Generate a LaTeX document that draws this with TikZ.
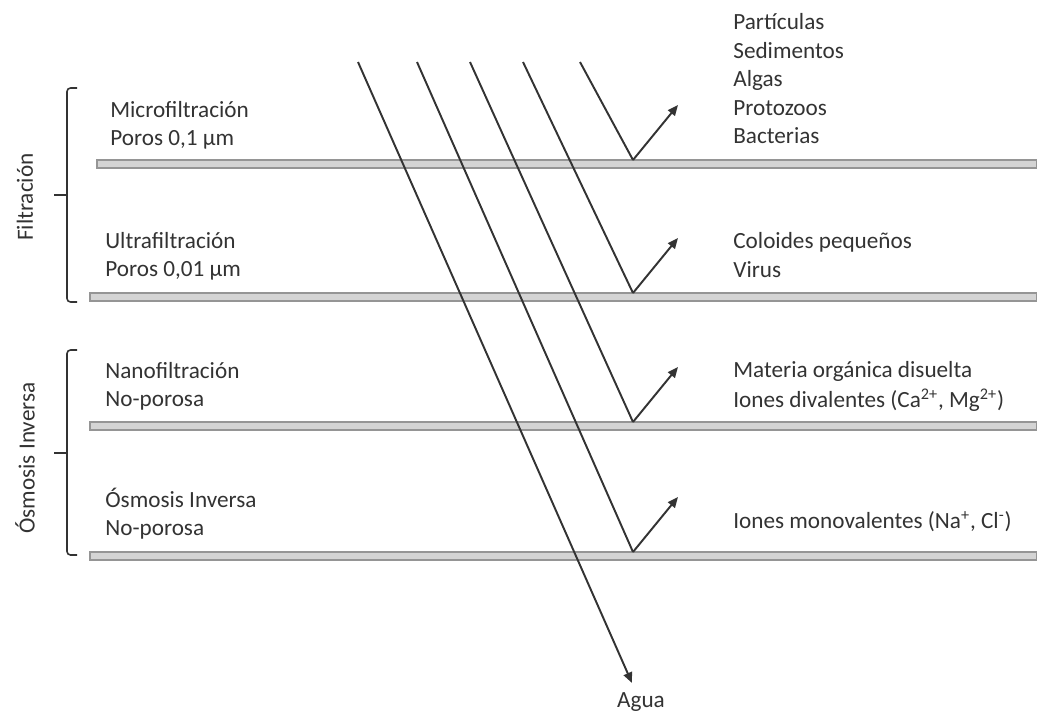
\documentclass[tikz,border=0pt]{standalone}
\usepackage{fontspec}
\setmainfont{Carlito}
\usetikzlibrary{arrows.meta}
\definecolor{ink}{HTML}{333333}
\definecolor{barfill}{HTML}{D4D4D4}
\definecolor{barline}{HTML}{959595}
\tikzset{
  lbl/.style={anchor=base west, inner sep=0pt, text=ink, font=\fontsize{13.2}{15}\selectfont},
  vlbl/.style={rotate=90, inner sep=0pt, text=ink, font=\fontsize{13.2}{15}\selectfont},
  ray/.style={draw=ink, line width=1.1pt},
  rayarr/.style={ray, -{Triangle[length=6pt,width=5pt]}},
  membrane/.style={draw=barline, fill=barfill, line width=1pt, inner sep=0pt},
  brace/.style={draw=ink, line width=0.9pt, rounded corners=2pt},
}
\begin{document}
\begin{tikzpicture}[x=0.02cm, y=-0.02cm]
\useasboundingbox (0,0) rectangle (1037,713);
% membranes
\draw[membrane] (97,160) rectangle (1037,168);
\draw[membrane] (90,293) rectangle (1037,301);
\draw[membrane] (90,422) rectangle (1037,430);
\draw[membrane] (90,552) rectangle (1037,560);
% V points
\coordinate (v1) at (633,160);
\coordinate (v2) at (633,293);
\coordinate (v3) at (633,422);
\coordinate (v4) at (633,552);
% ray starts
\coordinate (s0) at (358,62);
\coordinate (s1) at (417,62);
\coordinate (s2) at (470,62);
\coordinate (s3) at (523,62);
\coordinate (s4) at (580,62);
% reflected ends
\coordinate (r1) at (678,105);
\coordinate (r2) at (678,238);
\coordinate (r3) at (678,367);
\coordinate (r4) at (678,497);
% texts
\node[lbl] (mf) at (110,117) {Microfiltración};
\node[lbl] (mfp) at (110,145) {Poros 0,1 µm};
\node[lbl] (uf) at (105,248) {Ultrafiltración};
\node[lbl] (ufp) at (105,276) {Poros 0,01 µm};
\node[lbl] (nf) at (105,378) {Nanofiltración};
\node[lbl] (nfp) at (105,406) {No-porosa};
\node[lbl] (oi) at (105,507) {Ósmosis Inversa};
\node[lbl] (oip) at (105,535) {No-porosa};
\node[lbl] (t1) at (733,30) {Partículas};
\node[lbl] (t2) at (733,59) {Sedimentos};
\node[lbl] (t3) at (733,87) {Algas};
\node[lbl] (t4) at (733,115) {Protozoos};
\node[lbl] (t5) at (733,143) {Bacterias};
\node[lbl] (c1) at (733,248) {Coloides pequeños};
\node[lbl] (c2) at (733,277) {Virus};
\node[lbl] (d1) at (733,377) {Materia orgánica disuelta};
\node[lbl] (d2) at (733,407) {Iones divalentes (Ca\textsuperscript{2+}, Mg\textsuperscript{2+})};
\node[lbl] (m1) at (733,528) {Iones monovalentes (Na\textsuperscript{+}, Cl\textsuperscript{-})};
\node[lbl, anchor=base] (agua) at (641,707) {Agua};
\coordinate (aguatip) at (632,683);
% rays
\draw[rayarr] (s0) -- (aguatip);
\draw[ray] (s1) -- (v4);
\draw[ray] (s2) -- (v3);
\draw[ray] (s3) -- (v2);
\draw[ray] (s4) -- (v1);
\draw[rayarr] (v1) -- (r1);
\draw[rayarr] (v2) -- (r2);
\draw[rayarr] (v3) -- (r3);
\draw[rayarr] (v4) -- (r4);
% brackets
\draw[brace] (77,88) -- (67,88) -- (67,302) -- (77,302);
\draw[brace] (54,195) -- (67,195);
\draw[brace] (77,350) -- (67,350) -- (67,555) -- (77,555);
\draw[brace] (54,453) -- (67,453);
\node[vlbl] (filt) at (25,197) {Filtración};
\node[vlbl] (osm) at (25,458) {Ósmosis Inversa};
\end{tikzpicture}
\end{document}
